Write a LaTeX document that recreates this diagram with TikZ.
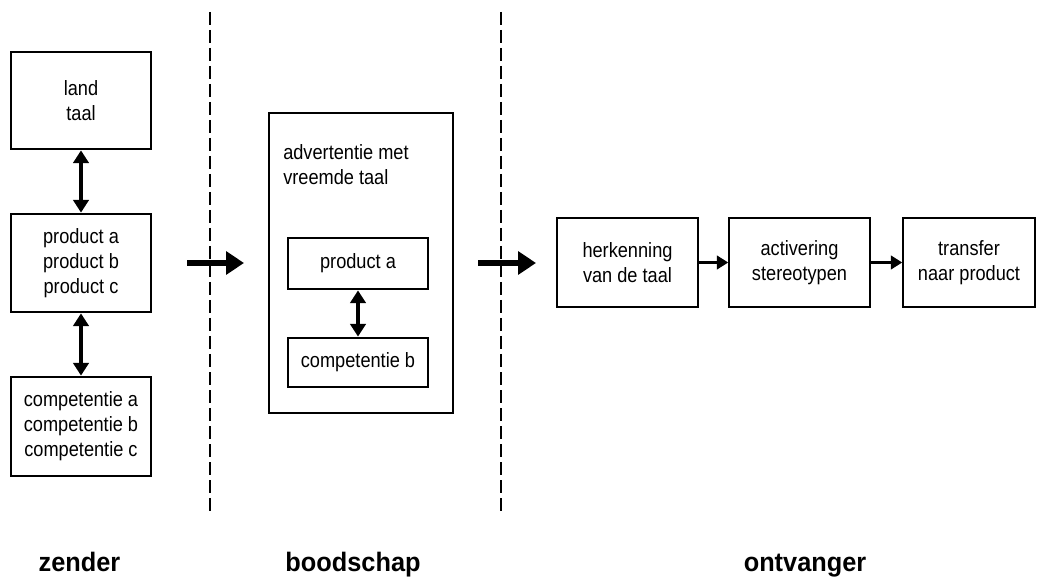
\documentclass[tikz,border=0pt]{standalone}
\usepackage{fontspec}
\setmainfont{Liberation Sans}
\newfontfamily\boxfont[FakeStretch=0.88]{Liberation Sans}
\newfontfamily\labfont[FakeStretch=0.95]{Liberation Sans}
\usetikzlibrary{arrows.meta}
\tikzset{
  box/.style={draw, line width=1.1pt, inner sep=0pt, align=center,
    font=\boxfont\fontsize{15.5pt}{18.75pt}\selectfont},
  dbl/.style={line width=2.3pt, {Triangle[length=9.5pt,width=11.5pt]}-{Triangle[length=9.5pt,width=11.5pt]}, shorten <=0.5pt, shorten >=0.5pt},
  thin/.style={line width=2.3pt, -{Triangle[length=8.5pt,width=10pt]}},
  fat/.style={line width=5pt, -{Triangle[length=13.5pt,width=17pt]}},
  sep/.style={line width=1.9pt, dash pattern=on 9.75pt off 3.75pt},
  lab/.style={anchor=base, font=\labfont\bfseries\fontsize{20pt}{24pt}\selectfont}
}
\begin{document}
\begin{tikzpicture}[x=0.75pt,y=-0.75pt]
\useasboundingbox (0,0) rectangle (1037,580);
% zender
\node[box, minimum width=105pt, minimum height=72.75pt] (land) at (81,100.5) {land\\taal};
\node[box, minimum width=105pt, minimum height=73.5pt] (prod) at (81,263) {product a\\product b\\product c};
\node[box, minimum width=105pt, minimum height=74.25pt] (comp) at (81,426.5) {competentie a\\competentie b\\competentie c};
\draw[dbl] (land.south) -- (prod.north);
\draw[dbl] (prod.south) -- (comp.north);
% boodschap
\node[box, minimum width=138pt, minimum height=225pt] (adv) at (361,263) {};
\node[anchor=north west, inner sep=0pt, align=left, font=\boxfont\fontsize{15.5pt}{18.75pt}\selectfont] (advtxt) at (283,144) {advertentie met\\vreemde taal};
\node[box, minimum width=105pt, minimum height=38.25pt] (pa) at (358,263.5) {product a};
\node[box, minimum width=105pt, minimum height=36.75pt] (cb) at (358,362.5) {competentie b};
\draw[dbl] (pa.south) -- (cb.north);
% ontvanger
\node[box, minimum width=105.75pt, minimum height=66.75pt] (herk) at (627.5,262.5) {herkenning\\van de taal};
\node[box, minimum width=105.75pt, minimum height=66.75pt] (act) at (799.5,262.5) {activering\\stereotypen};
\node[box, minimum width=99pt, minimum height=66.75pt] (tra) at (969,262.5) {transfer\\naar product};
\draw[thin] (herk.east) -- (act.west);
\draw[thin] (act.east) -- (tra.west);
% separators
\coordinate (s1t) at (210,12); \coordinate (s1b) at (210,515);
\coordinate (s2t) at (501,12); \coordinate (s2b) at (501,515);
\draw[sep] (s1t) -- (s1b);
\draw[sep] (s2t) -- (s2b);
% big arrows
\coordinate (a1s) at (187,263); \coordinate (a1e) at (244,263);
\coordinate (a2s) at (478,263); \coordinate (a2e) at (536,263);
\draw[fat] (a1s) -- (a1e);
\draw[fat] (a2s) -- (a2e);
% labels
\node[lab] (zender) at (79.5,571) {zender};
\node[lab] (boodschap) at (353,571) {boodschap};
\node[lab] (ontvanger) at (805,571) {ontvanger};
\end{tikzpicture}
\end{document}
